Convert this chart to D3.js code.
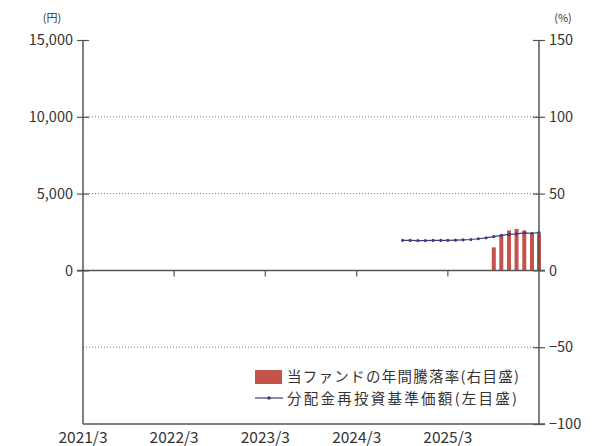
<!DOCTYPE html>
<html>
<head>
<meta charset="utf-8">
<script src="https://cdn.jsdelivr.net/npm/d3@7"></script>
<style>
  body { margin: 0; background: #fff; }
  text { font-family: "Noto Sans CJK JP", "Noto Sans", sans-serif; fill: #333; }
</style>
</head>
<body>
<svg id="chart"></svg>
<script>
// x axis ticks (year/month)
const tickLabels = ["2021/3", "2022/3", "2023/3", "2024/3", "2025/3", ""];
const tickDates = ["2021-03", "2022-03", "2023-03", "2024-03", "2025-03", "2026-03"];

// 分配金再投資基準価額 (left axis, 円), monthly
const navDates = ["2024-09", "2024-10", "2024-11", "2024-12", "2025-01", "2025-02", "2025-03",
  "2025-04", "2025-05", "2025-06", "2025-07", "2025-08", "2025-09", "2025-10", "2025-11",
  "2025-12", "2026-01", "2026-02", "2026-03"];
const navValues = [1960, 1950, 1940, 1940, 1950, 1950, 1960, 1970, 1990, 2010, 2060, 2120,
  2200, 2280, 2340, 2380, 2440, 2420, 2460];

// 年間騰落率 (right axis, %), monthly
const retDates = ["2025-09", "2025-10", "2025-11", "2025-12", "2026-01", "2026-02", "2026-03"];
const retValues = [15, 23, 26, 27, 26, 24, 24];

const leftTicks = [0, 5000, 10000, 15000];
const rightTicks = [-100, -50, 0, 50, 100, 150];
const legendLabels = ["当ファンドの年間騰落率(右目盛)", "分配金再投資基準価額(左目盛)"];

const width = 593, height = 446;
const pLeft = 83, pRight = 539, pTop = 40, pBottom = 424;
const parse = d3.timeParse("%Y-%m");
const barColor = "#c4544b";
const lineColor = "#3d3f78";

const svg = d3.select("#chart").attr("width", width).attr("height", height);

const x = d3.scaleTime()
  .domain([parse("2021-03"), parse("2026-03")])
  .range([pLeft, pRight]);
const yL = d3.scaleLinear().domain([-10000, 15000]).range([pBottom, pTop]);
const yR = d3.scaleLinear().domain([-100, 150]).range([pBottom, pTop]);

// dotted grid
svg.append("g").selectAll("line")
  .data([100, 50, -50])
  .join("line")
  .attr("x1", pLeft).attr("x2", pRight)
  .attr("y1", d => yR(d)).attr("y2", d => yR(d))
  .attr("stroke", "#777").attr("stroke-width", 1)
  .attr("stroke-dasharray", "1,2");

// bars
const bw = 4;
svg.append("g").selectAll("rect")
  .data(retValues)
  .join("rect")
  .attr("x", (d, i) => x(parse(retDates[i])) - bw / 2)
  .attr("y", d => yR(d))
  .attr("width", bw)
  .attr("height", d => yR(0) - yR(d))
  .attr("fill", barColor);

// line
const pts = navValues.map((v, i) => [x(parse(navDates[i])), yL(v)]);
svg.append("path")
  .attr("d", d3.line()(pts))
  .attr("fill", "none")
  .attr("stroke", lineColor)
  .attr("stroke-width", 1.2);
svg.append("g").selectAll("circle")
  .data(pts)
  .join("circle")
  .attr("cx", d => d[0]).attr("cy", d => d[1])
  .attr("r", 1.6)
  .attr("fill", lineColor);

// axes frame
const axisColor = "#555";
svg.append("line").attr("x1", pLeft).attr("x2", pLeft).attr("y1", pTop).attr("y2", pBottom)
  .attr("stroke", axisColor).attr("stroke-width", 1.5);
svg.append("line").attr("x1", pRight).attr("x2", pRight).attr("y1", pTop).attr("y2", pBottom)
  .attr("stroke", axisColor).attr("stroke-width", 1.5);
svg.append("line").attr("x1", pLeft - 6).attr("x2", pRight + 6).attr("y1", yR(0)).attr("y2", yR(0))
  .attr("stroke", axisColor).attr("stroke-width", 1.5);
svg.append("line").attr("x1", pLeft).attr("x2", pRight + 6).attr("y1", pBottom).attr("y2", pBottom)
  .attr("stroke", axisColor).attr("stroke-width", 1.5);

// left axis
const gl = svg.append("g")
  .attr("transform", `translate(${pLeft},0)`)
  .call(d3.axisLeft(yL).tickValues(leftTicks).tickSize(6).tickFormat(d3.format(",")));
gl.select(".domain").remove();
gl.selectAll(".tick line").attr("x2", 6).attr("x1", -6).attr("stroke", axisColor).attr("stroke-width", 1.2);
gl.selectAll(".tick text").attr("x", -10).style("font-size", "14.5px");

// right axis
const gr = svg.append("g")
  .attr("transform", `translate(${pRight},0)`)
  .call(d3.axisRight(yR).tickValues(rightTicks).tickSize(6));
gr.select(".domain").remove();
gr.selectAll(".tick line").attr("x1", -6).attr("x2", 6).attr("stroke", axisColor).attr("stroke-width", 1.2);
gr.selectAll(".tick text").attr("x", 10).style("font-size", "14.5px");

// bottom axis ticks at zero line, labels below plot
const tickTimes = tickDates.map(parse);
svg.append("g").selectAll("line")
  .data(tickTimes.slice(1, 5))
  .join("line")
  .attr("x1", d => x(d)).attr("x2", d => x(d))
  .attr("y1", yR(0)).attr("y2", yR(0) + 6)
  .attr("stroke", axisColor).attr("stroke-width", 1.2);
svg.append("g").selectAll("text")
  .data(tickTimes)
  .join("text")
  .attr("x", d => x(d))
  .attr("y", 443)
  .attr("text-anchor", "middle")
  .style("font-size", "15.5px")
  .text((d, i) => tickLabels[i]);

// units
svg.append("text").attr("x", 52).attr("y", 22).attr("text-anchor", "middle")
  .style("font-size", "11px").text("(円)");
svg.append("text").attr("x", 563).attr("y", 22).attr("text-anchor", "middle")
  .style("font-size", "11px").text("(%)");

// legend
const lg = svg.append("g");
lg.append("rect").attr("x", 255).attr("y", 370).attr("width", 27).attr("height", 14).attr("fill", barColor);
lg.append("text").attr("x", 287).attr("y", 382).style("font-size", "14.5px")
  .attr("textLength", 232).attr("lengthAdjust", "spacing").text(legendLabels[0]);
lg.append("line").attr("x1", 255).attr("x2", 283).attr("y1", 398).attr("y2", 398)
  .attr("stroke", lineColor).attr("stroke-width", 1.2);
lg.append("circle").attr("cx", 269).attr("cy", 398).attr("r", 1.8).attr("fill", lineColor);
lg.append("text").attr("x", 287).attr("y", 404).style("font-size", "14.5px")
  .attr("textLength", 230).attr("lengthAdjust", "spacing").text(legendLabels[1]);
</script>
</body>
</html>
